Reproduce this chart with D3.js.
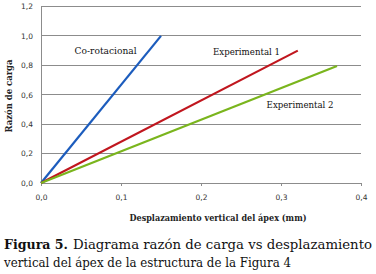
<!DOCTYPE html>
<html><head><meta charset="utf-8">
<script src="https://cdn.jsdelivr.net/npm/d3@7"></script>
<style>body{margin:0;background:#fff}svg{display:block}
.serif{font-family:'DejaVu Serif',serif}</style>
</head><body>
<svg id="c" width="376" height="274"></svg>
<script>
const xTicks = [0, 0.1, 0.2, 0.3, 0.4];
const yTicks = [0, 0.2, 0.4, 0.6, 0.8, 1.0, 1.2];
const seriesNames = ["Co-rotacional", "Experimental 1", "Experimental 2"];
const seriesX = [[0, 0.15], [0, 0.321], [0, 0.37]];
const seriesY = [[0, 1.0], [0, 0.90], [0, 0.795]];
const colors = ["#1c5cbd", "#c0161e", "#7ab51d"];
const labelPos = [[0.042, 0.88], [0.215, 0.87], [0.282, 0.51]];
const labelLen = [62, 67, 67];

const svg = d3.select("#c");
const x = d3.scaleLinear().domain([0, 0.4]).range([41, 361]);
const y = d3.scaleLinear().domain([0, 1.2]).range([183, 6.5]);
const fmt = d => d3.format(".1f")(d).replace(".", ",");

svg.append("g").selectAll("line").data(yTicks.filter(d => d > 0)).join("line")
  .attr("x1", x(0)).attr("x2", x(0.4)).attr("y1", d => y(d)).attr("y2", d => y(d))
  .attr("stroke", "#8c8c8c").attr("stroke-width", 1).attr("shape-rendering", "crispEdges");

const ya = svg.append("g").attr("transform", `translate(${x(0)},0)`)
  .call(d3.axisLeft(y).tickValues(yTicks).tickFormat(fmt).tickSize(0).tickPadding(8));
ya.select(".domain").attr("stroke", "#8c8c8c").attr("shape-rendering", "crispEdges");
ya.selectAll("text").attr("font-family", "DejaVu Sans, sans-serif").attr("font-size", 7.5).attr("fill", "#333");

const xa = svg.append("g").attr("transform", `translate(0,${y(0)})`)
  .call(d3.axisBottom(x).tickValues(xTicks).tickFormat(fmt).tickSize(3).tickSizeOuter(0).tickPadding(9));
xa.select(".domain").attr("stroke", "#8c8c8c").attr("shape-rendering", "crispEdges");
xa.selectAll(".tick line").attr("stroke", "#8c8c8c");
xa.selectAll("text").attr("font-family", "DejaVu Sans, sans-serif").attr("font-size", 7.5).attr("fill", "#333");

const line = d3.line().x(d => x(d[0])).y(d => y(d[1]));
seriesNames.forEach((n, i) => {
  const pts = seriesX[i].map((v, j) => [v, seriesY[i][j]]);
  svg.append("path").datum(pts).attr("d", line).attr("fill", "none")
    .attr("stroke", colors[i]).attr("stroke-width", 2.2);
  svg.append("text").attr("class", "serif").attr("x", x(labelPos[i][0])).attr("y", y(labelPos[i][1]))
    .attr("font-size", 10).attr("fill", "#111")
    .attr("textLength", labelLen[i]).attr("lengthAdjust", "spacingAndGlyphs").text(n);
});

svg.append("text").attr("class", "serif").attr("transform", "translate(12,96) rotate(-90)").attr("text-anchor", "middle")
  .attr("font-weight", "bold").attr("font-size", 9.5).attr("fill", "#222")
  .attr("textLength", 73).attr("lengthAdjust", "spacingAndGlyphs")
  .text("Razón de carga");
svg.append("text").attr("class", "serif").attr("x", 218).attr("y", 221).attr("text-anchor", "middle")
  .attr("font-weight", "bold").attr("font-size", 9.5).attr("fill", "#222")
  .attr("textLength", 177).attr("lengthAdjust", "spacingAndGlyphs")
  .text("Desplazamiento vertical del ápex (mm)");

svg.append("text").attr("class", "serif").attr("x", 4).attr("y", 249)
  .attr("font-size", 13).attr("font-weight", "bold").attr("fill", "#111")
  .attr("textLength", 64).attr("lengthAdjust", "spacingAndGlyphs").text("Figura 5.");
svg.append("text").attr("class", "serif").attr("x", 73).attr("y", 249)
  .attr("font-size", 13).attr("fill", "#111")
  .attr("textLength", 299).attr("lengthAdjust", "spacingAndGlyphs").text("Diagrama razón de carga vs desplazamiento");
svg.append("text").attr("class", "serif").attr("x", 4).attr("y", 267)
  .attr("font-size", 13).attr("fill", "#111")
  .attr("textLength", 287).attr("lengthAdjust", "spacingAndGlyphs")
  .text("vertical del ápex de la estructura de la Figura 4");
</script>
</body></html>
